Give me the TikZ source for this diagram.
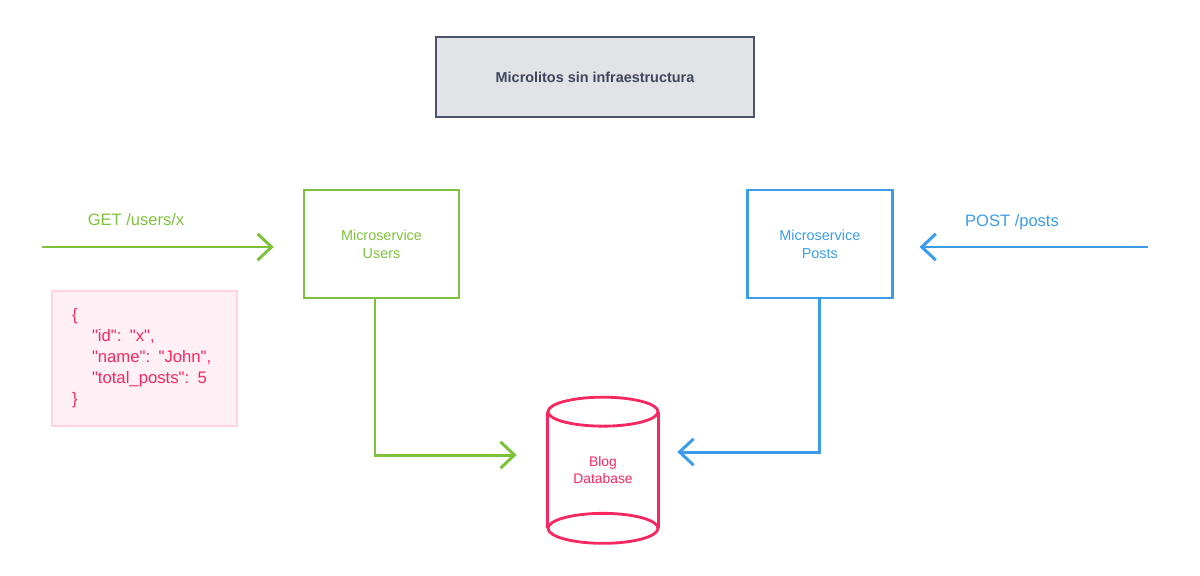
\documentclass[tikz,border=0pt]{standalone}
\usepackage{fontspec}
\setmainfont{Liberation Sans}
\newfontfamily\jsonfont{Liberation Sans}
\usetikzlibrary{arrows.meta,positioning}
\definecolor{titlefill}{HTML}{E1E3E7}
\definecolor{titledraw}{HTML}{4B5270}
\definecolor{titletext}{HTML}{3F4659}
\definecolor{usersgreen}{HTML}{7EC13D}
\definecolor{postsblue}{HTML}{3A9CEB}
\definecolor{dbred}{HTML}{F5285F}
\definecolor{jsonfill}{HTML}{FFF0F5}
\definecolor{jsondraw}{HTML}{FFD3E0}
\newcommand{\jin}{\hspace*{0.4cm}}

\begin{document}
\begin{tikzpicture}[
  x=0.02cm, y=-0.02cm,
  node distance=0.6cm and 5.72cm,
  svc/.style={draw, line width=1.4pt, minimum width=3.1cm, minimum height=2.16cm, align=center, font=\fontsize{8.2}{10.2}\selectfont},
  title/.style={draw=titledraw, fill=titlefill, line width=1.6pt, minimum width=6.36cm, minimum height=1.6cm, text=titletext, font=\fontsize{8.2}{10}\selectfont\bfseries},
  jsonbox/.style={draw=jsondraw, fill=jsonfill, line width=1.4pt, text=dbred, align=left, text width=2.9cm, inner xsep=0.4cm, minimum height=2.7cm, font=\jsonfont\fontsize{9.5}{12}\selectfont},
  lbl/.style={font=\fontsize{9.4}{12}\selectfont},
  garr/.style={draw=usersgreen, line width=1.7pt, -{Straight Barb[length=8pt, width=15pt]}},
  barr/.style={draw=postsblue, line width=1.7pt, -{Straight Barb[length=8pt, width=15pt]}},
  dbline/.style={draw=dbred, line width=1.6pt}
]
  \useasboundingbox (0,0) rectangle (1200,575);

  \node[title] (title) at (595,77) {Microlitos sin infraestructura};

  \node[svc, draw=usersgreen, text=usersgreen] (users) at (381.5,244) {Microservice\\Users};
  \node[svc, draw=postsblue, text=postsblue, minimum width=2.9cm, right=of users] (posts) {Microservice\\Posts};

  \node[jsonbox] (json) at (144.5,358.5) {\{\\
    \jin"id": "x",\\
    \jin"name": "John",\\
    \jin"total\_posts": 5\\
    \}};

  % database cylinder
  \node[minimum width=2.2cm, minimum height=2.32cm, inner sep=0pt, align=center, text=dbred, font=\fontsize{7.9}{10.2}\selectfont] (db) at (603,470) {Blog\\Database};
  \draw[dbline] (db.north west) -- (db.south west);
  \draw[dbline] (db.north east) -- (db.south east);
  \draw[dbline] (db.north) ellipse [x radius=1.1cm, y radius=0.29cm];
  \draw[dbline] (db.south) ellipse [x radius=1.1cm, y radius=0.3cm];

  % requests
  \coordinate (getin) at (42,247);
  \coordinate (postin) at (1148,247);
  \node[lbl, text=usersgreen] (getlbl) at (136,220) {GET /users/x};
  \node[lbl, text=postsblue] (postlbl) at (1012,222) {POST /posts};
  \draw[garr, shorten >=0.58cm] (getin) -- (getin -| users.west);
  \draw[barr, shorten >=0.52cm] (postin) -- (postin -| posts.east);

  \draw[garr, shorten >=0.62cm] ([xshift=-0.13cm]users.south) |- ([yshift=0.3cm]db.west);
  \draw[barr, shorten >=0.38cm] (posts.south) |- ([yshift=0.36cm]db.east);
\end{tikzpicture}
\end{document}
